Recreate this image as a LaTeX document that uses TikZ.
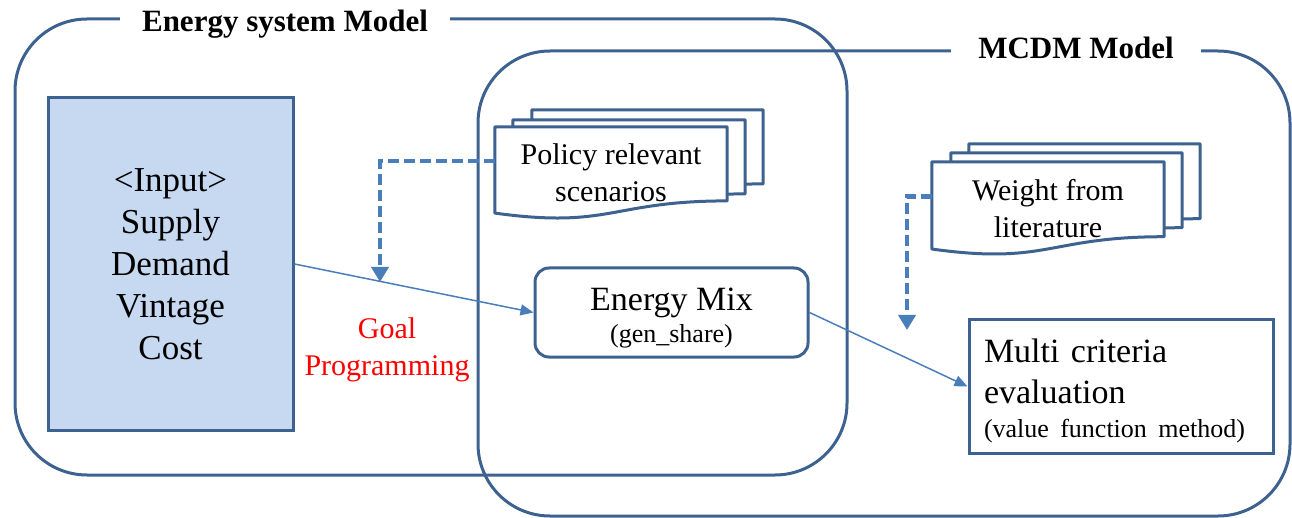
\documentclass[tikz,border=0pt]{standalone}
\usepackage{fontspec}
\setmainfont{Liberation Serif}
\usetikzlibrary{arrows.meta,calc,backgrounds}

\definecolor{edgeblue}{HTML}{3D6290}
\definecolor{flowblue}{HTML}{4A7EBB}
\definecolor{inputfill}{HTML}{C6D9F0}

% outline of a flow-chart "document" sheet around the node #1
\newcommand{\docsheet}[1]{%
  \draw[docline] (#1.north west) -- (#1.north east)
    -- ($(#1.north east)!0.802!(#1.south east)$)
    .. controls ($(#1.north)!0.802!(#1.south)$) and ($(#1.north)!1.107!(#1.south)$)
    .. ($(#1.north west)!0.934!(#1.south west)$) -- cycle;}

\tikzset{
  frame/.style={draw=edgeblue, line width=3pt, rounded corners=72pt, inner sep=0pt},
  titletext/.style={fill=white, inner xsep=22pt, inner ysep=2pt,
    font=\bfseries\fontsize{31}{37}\selectfont},
  docline/.style={draw=edgeblue, line width=3pt, fill=white, line join=round},
  docnode/.style={inner sep=0pt, align=center, font=\fontsize{30}{37}\selectfont},
  inputbox/.style={draw=edgeblue, fill=inputfill, line width=3pt, inner sep=0pt,
    align=center, font=\fontsize{35}{42}\selectfont},
  mixbox/.style={draw=edgeblue, line width=3pt, rounded corners=14pt, inner sep=0pt,
    align=center, font=\fontsize{34}{32}\selectfont},
  evalbox/.style={draw=edgeblue, line width=3pt, inner xsep=15pt, inner ysep=0pt,
    text width=274pt, align=left, font=\fontsize{34}{41}\selectfont},
  flow/.style={draw=flowblue, line width=1.5pt, -{Triangle[width=11pt,length=13pt]}},
  dasharrow/.style={draw=flowblue, line width=4.5pt, dash pattern=on 11pt off 5pt,
    -{Triangle[width=17pt,length=15pt]}},
  goaltext/.style={text=red, align=center, font=\fontsize{30}{37}\selectfont}
}

\begin{document}
\begin{tikzpicture}[x=1pt, y=-1pt]
\useasboundingbox (0,0) rectangle (1292,518);

% model frames
\node[frame, minimum width=832pt, minimum height=456pt] (esm) at (431,247) {};
\node[frame, minimum width=812pt, minimum height=465pt] (mcdm) at (884,283.5) {};
\node[titletext] (esmtitle) at (285,24) {Energy system Model};
\node[titletext, inner xsep=27pt] (mcdmtitle) at (1076,47.5) {MCDM Model};

% stacked scenario sheets
\node[docnode, minimum width=231pt, minimum height=92pt] (polC) at (647.5,156) {};
\node[docnode, minimum width=232pt, minimum height=92pt] (polB) at (629,166) {};
\node[docnode, minimum width=232pt, minimum height=92pt] (polA) at (611,173)
  {Policy relevant\\scenarios};

% stacked weight sheets
\node[docnode, minimum width=231pt, minimum height=93pt] (wgtC) at (1084.5,190.5) {};
\node[docnode, minimum width=231pt, minimum height=93pt] (wgtB) at (1066.5,199.5) {};
\node[docnode, minimum width=232pt, minimum height=93pt] (wgtA) at (1048,208.5)
  {Weight from\\literature};

\begin{scope}[on background layer]
  \docsheet{polC}\docsheet{polB}\docsheet{polA}
  \docsheet{wgtC}\docsheet{wgtB}\docsheet{wgtA}
\end{scope}

% process boxes
\node[inputbox, minimum width=245pt, minimum height=332pt] (inp) at (170.5,264)
  {<Input>\\Supply\\Demand\\Vintage\\Cost};
\node[mixbox, minimum width=273pt, minimum height=89pt] (mix) at (671.5,312.5)
  {\rule{0pt}{34pt}Energy Mix\\{\fontsize{26}{32}\selectfont (gen\_share)}};
\node[evalbox, minimum height=133pt] (mce) at (1121,386.5)
  {\rule{0pt}{33pt}Multi criteria\\evaluation\\[-7pt]{\fontsize{26}{32}\selectfont (value function method)}};

\node[goaltext] (goal) at (387,349.5) {Goal\\Programming};

% flows
\draw[flow] (inp.east) -- (mix.west);
\draw[flow] (mix.east) -- (mce.west);

\coordinate (gpin) at (380,282);
\coordinate (wtin) at (907,330);
\draw[dasharrow] (polA.174) -| (gpin);
\draw[dasharrow] (wgtA.174) -| (wtin);
\end{tikzpicture}
\end{document}
